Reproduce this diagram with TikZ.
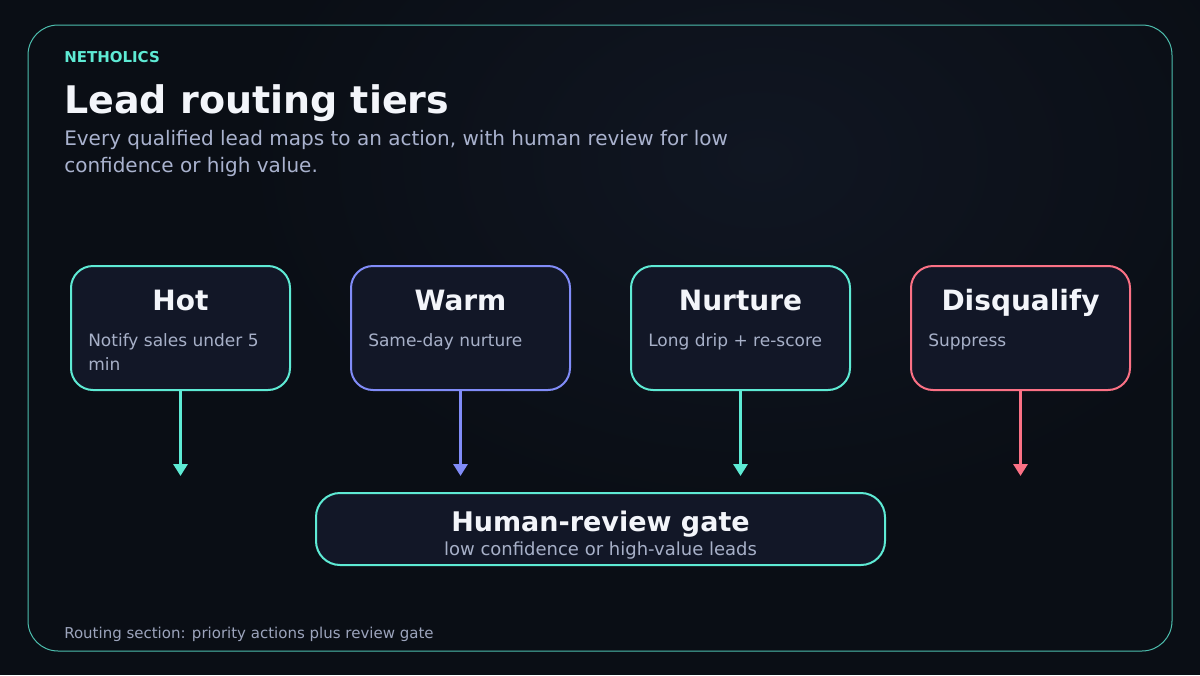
\documentclass[tikz,border=0pt]{standalone}
\usepackage{fontspec}
\setmainfont{DejaVu Sans}
\usetikzlibrary{arrows.meta}
\definecolor{bg}{HTML}{0A0E15}
\definecolor{glow}{HTML}{101622}
\definecolor{teal}{HTML}{5EEAD4}
\definecolor{indigo}{HTML}{818CF8}
\definecolor{rose}{HTML}{FB7185}
\definecolor{cardfill}{HTML}{121727}
\definecolor{titlec}{HTML}{F3F5FA}
\definecolor{descc}{HTML}{A7B0C8}
\definecolor{subc}{HTML}{A9B2CE}
\definecolor{footc}{HTML}{9CA4BC}
\newcommand{\fpx}[1]{\fontsize{\dimexpr #1pt*3/4\relax}{\dimexpr #1pt*9/10\relax}\selectfont}
\tikzset{
  card/.style={draw=#1, line width=1.5pt, fill=cardfill, rounded corners=16.5pt,
    minimum width=164.25pt, minimum height=93pt, inner sep=0pt},
  gatebox/.style={draw=teal, line width=1.5pt, fill=cardfill, rounded corners=18pt,
    minimum width=426.75pt, minimum height=54pt, inner sep=0pt},
  cardtitle/.style={anchor=base, inner sep=0pt, text=titlec, font=\fpx{28}\bfseries},
  carddesc/.style={anchor=base west, inner sep=0pt, text=descc, font=\fpx{17}, align=left},
  flow/.style={draw=#1, line width=2.4pt, -{Triangle[width=10.5pt,length=9pt,fill=#1]}}
}
\begin{document}
\begin{tikzpicture}[x=0.75pt,y=-0.75pt]
\useasboundingbox (0,0) rectangle (1200,675);
\fill[bg] (0,0) rectangle (1200,675);
\shade[inner color=glow, outer color=bg] (760,160) ellipse (520 and 360);
\draw[teal!80!bg, line width=0.75pt, rounded corners=22.5pt] (28,25) rectangle (1172,651);

% header
\node[anchor=base west, inner sep=0pt, text=teal, font=\fpx{15}\bfseries] (brand) at (64,62) {NETHOLICS};
\node[anchor=base west, inner sep=0pt, text=titlec, font=\fpx{38}\bfseries] (title) at (64,113) {Lead routing tiers};
\node[anchor=base west, inner sep=0pt, text=subc, font=\fpx{20}] (sub1) at (64,145) {Every qualified lead maps to an action, with human review for low};
\node[anchor=base west, inner sep=0pt, text=subc, font=\fpx{20}] (sub2) at (64,172) {confidence or high value.};

% cards
\node[card=teal] (hot) at (180.5,328) {};
\node[card=indigo] (warm) at (460.5,328) {};
\node[card=teal] (nurture) at (740.5,328) {};
\node[card=rose] (disq) at (1020.5,328) {};

\node[cardtitle] (hott) at (180.5,310) {Hot};
\node[cardtitle] (warmt) at (460.5,310) {Warm};
\node[cardtitle] (nurturet) at (740.5,310) {Nurture};
\node[cardtitle] (disqt) at (1020.5,310) {Disqualify};

\node[carddesc] (hotd) at (88,346) {Notify sales under 5};
\node[carddesc] (hotd2) at (88,370) {min};
\node[carddesc] (warmd) at (368,346) {Same-day nurture};
\node[carddesc] (nurtured) at (648,346) {Long drip + re-score};
\node[carddesc] (disqd) at (928,346) {Suppress};

% arrow ends
\coordinate (ehot) at (180.5,476);
\coordinate (ewarm) at (460.5,476);
\coordinate (enurture) at (740.5,476);
\coordinate (edisq) at (1020.5,476);

\draw[flow=teal] (hot.south) -- (ehot);
\draw[flow=indigo] (warm.south) -- (ewarm);
\draw[flow=teal] (nurture.south) -- (enurture);
\draw[flow=rose] (disq.south) -- (edisq);

% gate
\node[gatebox] (gate) at (600.5,529) {};
\node[cardtitle, font=\fpx{27}\bfseries] (gatet) at (600.5,531.5) {Human-review gate};
\node[anchor=base, inner sep=0pt, text=descc, font=\fpx{18}] (gates) at (600.5,555) {low confidence or high-value leads};

% footer
\node[anchor=base west, inner sep=0pt, text=footc, font=\fpx{15}] (foot) at (64,638) {Routing section: priority actions plus review gate};
\end{tikzpicture}
\end{document}
